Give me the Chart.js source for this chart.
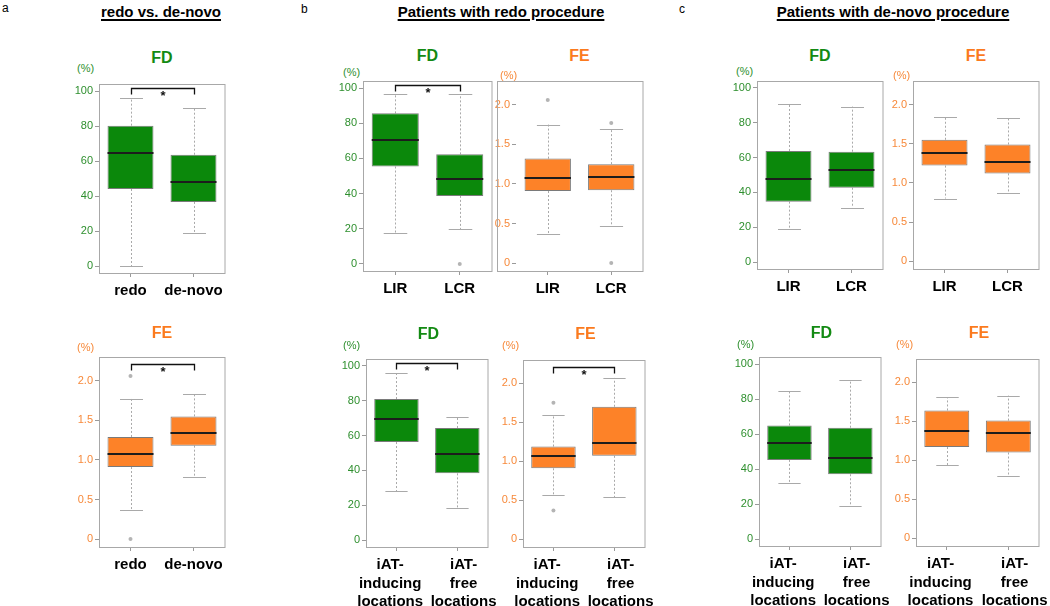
<!DOCTYPE html>
<html>
<head>
<meta charset="utf-8">
<script src="https://cdn.jsdelivr.net/npm/chart.js@4"></script>
<style>
body{margin:0;background:#fff;width:1050px;height:606px;position:relative;overflow:hidden;font-family:"Liberation Sans",Arial,sans-serif;}
.txt{position:absolute;white-space:nowrap;}
.sec{font-weight:bold;font-size:15px;text-decoration:underline;text-decoration-thickness:1.5px;text-underline-offset:2px;transform:translateX(-50%);}
.letter{font-size:12px;}
.ttl{font-weight:bold;font-size:16px;transform:translateX(-50%);}
.pct{font-size:11px;}
.holder{position:absolute;}
</style>
</head>
<body>
<div class="txt letter" style="left:2px;top:1px">a</div>
<div class="txt letter" style="left:301px;top:2px">b</div>
<div class="txt letter" style="left:679px;top:2px">c</div>
<div class="txt sec" style="left:161px;top:3px">redo vs. de-novo</div>
<div class="txt sec" style="left:501px;top:3px">Patients with redo procedure</div>
<div class="txt sec" style="left:893px;top:3px">Patients with de-novo procedure</div>

<script>
// categories
const catsRedo = ['redo', 'de-novo'];
const catsLoc = ['LIR', 'LCR'];
const catsIat = [['iAT-', 'inducing', 'locations'], ['iAT-', 'free', 'locations']];

// tick values
const fdTicks = [0, 20, 40, 60, 80, 100];
const feTicks = [0, 0.5, 1.0, 1.5, 2.0];

// box stats per category: [lower whisker, Q1, median, Q3, upper whisker]
const aFD = [[0, 44, 64.8, 80.2, 96.2], [18.7, 36.6, 48.2, 63.6, 90.5]];
const aFE = [[0.37, 0.91, 1.08, 1.29, 1.77], [0.79, 1.18, 1.34, 1.55, 1.83]];
const bFD1 = [[17.8, 55.4, 70.7, 85.6, 96.4], [19.9, 38.7, 48.1, 62.3, 96.4]];
const bFE1 = [[0.37, 0.91, 1.08, 1.32, 1.75], [0.47, 0.92, 1.09, 1.25, 1.70]];
const bFD2 = [[28, 56.3, 69.3, 81, 95.8], [18.4, 38.3, 49.4, 64.4, 70.7]];
const bFE2 = [[0.57, 0.91, 1.07, 1.19, 1.59], [0.54, 1.07, 1.24, 1.70, 2.07]];
const cFD1 = [[18.9, 34.7, 47.8, 63.8, 90.9], [31.2, 42.7, 53.1, 63.4, 89.3]];
const cFE1 = [[0.80, 1.22, 1.38, 1.55, 1.84], [0.87, 1.12, 1.26, 1.49, 1.83]];
const cFD2 = [[32.2, 45.2, 55, 64.9, 84.3], [19, 37, 46, 63.6, 91]];
const cFE2 = [[0.94, 1.17, 1.37, 1.64, 1.81], [0.80, 1.10, 1.35, 1.51, 1.83]];

// outliers: [category index, value]
const aFEout = [[0, 2.06], [0, 0]];
const bFD1out = [[1, 0]];
const bFE1out = [[0, 2.06], [1, 1.77], [1, 0]];
const bFE2out = [[0, 1.75], [0, 0.37]];

// level of the significance bracket (null = none)
const sigFD = 101.5;
const sigFE = 2.21;

const GREEN = '#0b880b', ORANGE = '#fd8228';
const FONT = '"Liberation Sans", Arial, sans-serif';

// frame x,y,w,h ; title y ; (%) x,y ; extra frame to the left ; spread of the labels
const panels = [
  {kind:'FD', cats:catsRedo, stats:aFD, out:[], sig:sigFD, box:[99,84,126,189], ty:49, px:77, py:62},
  {kind:'FE', cats:catsRedo, stats:aFE, out:aFEout, sig:sigFE, box:[99,357,126,190], ty:324, px:77, py:341},
  {kind:'FD', cats:catsLoc, stats:bFD1, out:bFD1out, sig:sigFD, box:[363,81,129,190], ty:47, px:343, py:66},
  {kind:'FE', cats:catsLoc, stats:bFE1, out:bFE1out, sig:null, box:[516,81,127,190], ty:47, px:500, py:69, extra:19},
  {kind:'FD', cats:catsIat, stats:bFD2, out:[], sig:sigFD, box:[366,359,125,188], ty:325, px:343, py:339, spread:3},
  {kind:'FE', cats:catsIat, stats:bFE2, out:bFE2out, sig:sigFE, box:[523,360,125,187], ty:325, px:502, py:339, spread:3},
  {kind:'FD', cats:catsLoc, stats:cFD1, out:[], sig:null, box:[757,81,126,188], ty:47, px:736, py:65},
  {kind:'FE', cats:catsLoc, stats:cFE1, out:[], sig:null, box:[913,81,126,188], ty:47, px:893, py:69},
  {kind:'FD', cats:catsIat, stats:cFD2, out:[], sig:null, box:[759,357,125,189], ty:324, px:737, py:338, spread:3},
  {kind:'FE', cats:catsIat, stats:cFE2, out:[], sig:null, box:[916,359,126,187], ty:324, px:896, py:338, spread:3}
];

const boxPlugin = {
  id: 'boxParts',
  beforeDatasetsDraw(chart, args, opts){
    const ctx = chart.ctx, xs = chart.scales.x, ys = chart.scales.y;
    const bars = chart.getDatasetMeta(0).data;
    ctx.save();
    opts.stats.forEach((s, i) => {
      const x = Math.round(xs.getPixelForValue(i)) + 0.5;
      const half = bars[i].width / 4;
      ctx.strokeStyle = '#a9a9a9';
      ctx.lineWidth = 1;
      ctx.setLineDash([2, 2]);
      ctx.beginPath();
      ctx.moveTo(x, ys.getPixelForValue(s[3]));
      ctx.lineTo(x, ys.getPixelForValue(s[4]));
      ctx.moveTo(x, ys.getPixelForValue(s[1]));
      ctx.lineTo(x, ys.getPixelForValue(s[0]));
      ctx.stroke();
      ctx.setLineDash([]);
      ctx.beginPath();
      [s[0], s[4]].forEach(v => {
        const y = Math.round(ys.getPixelForValue(v)) + 0.5;
        ctx.moveTo(x - half, y);
        ctx.lineTo(x + half, y);
      });
      ctx.stroke();
    });
    ctx.restore();
  },
  afterDatasetsDraw(chart, args, opts){
    const ctx = chart.ctx, xs = chart.scales.x, ys = chart.scales.y;
    const bars = chart.getDatasetMeta(0).data;
    ctx.save();
    ctx.strokeStyle = '#1c1c1c';
    ctx.lineWidth = 2;
    opts.stats.forEach((s, i) => {
      const x = xs.getPixelForValue(i), hw = bars[i].width / 2;
      const y = Math.round(ys.getPixelForValue(s[2]));
      ctx.beginPath();
      ctx.moveTo(x - hw, y);
      ctx.lineTo(x + hw, y);
      ctx.stroke();
    });
    if (opts.sig !== null){
      const x0 = Math.round(xs.getPixelForValue(0)) + 0.5;
      const x1 = Math.round(xs.getPixelForValue(1)) + 0.5;
      const y = Math.round(ys.getPixelForValue(opts.sig)) + 0.5;
      ctx.lineWidth = 1.3;
      ctx.strokeStyle = '#111';
      ctx.beginPath();
      ctx.moveTo(x0, y + 6);
      ctx.lineTo(x0, y);
      ctx.lineTo(x1, y);
      ctx.lineTo(x1, y + 6);
      ctx.stroke();
      ctx.fillStyle = '#111';
      ctx.font = 'bold 13px ' + FONT;
      ctx.textAlign = 'center';
      ctx.textBaseline = 'middle';
      ctx.fillText('*', (x0 + x1) / 2, y + 8);
    }
    ctx.restore();
  },
  afterDraw(chart, args, opts){
    const ctx = chart.ctx, a = chart.chartArea;
    ctx.save();
    ctx.strokeStyle = '#a8a8a8';
    ctx.lineWidth = 1;
    const left = Math.round(a.left - (opts.extra || 0)) + 0.5;
    ctx.strokeRect(left, Math.round(a.top) + 0.5, Math.round(a.right) - left, Math.round(a.bottom - a.top));
    ctx.restore();
  }
};

function addText(cls, text, x, y, color){
  const d = document.createElement('div');
  d.className = 'txt ' + cls;
  d.textContent = text;
  d.style.left = x + 'px';
  d.style.top = y + 'px';
  d.style.color = color;
  document.body.appendChild(d);
}

panels.forEach(p => {
  const [bx, by, bw, bh] = p.box;
  const isFD = p.kind === 'FD';
  const main = isFD ? GREEN : ORANGE;
  const tickCol = isFD ? '#2e8f2e' : '#f7893a';
  const titleCol = isFD ? '#138a13' : '#fb7a1e';

  addText('ttl', p.kind, bx + bw / 2, p.ty, titleCol);
  addText('pct', '(%)', p.px, p.py, tickCol);

  const holder = document.createElement('div');
  holder.className = 'holder';
  const padL = 45, padT = 10, padR = 14, padB = 72;
  holder.style.left = (bx - padL) + 'px';
  holder.style.top = (by - padT) + 'px';
  const canvas = document.createElement('canvas');
  canvas.width = bw + padL + padR;
  canvas.height = bh + padT + padB;
  holder.appendChild(canvas);
  document.body.appendChild(holder);

  const tickVals = isFD ? fdTicks : feTicks;
  const spread = ' '.repeat(p.spread || 0);

  // one point dataset per outlier, placed on its category
  const outSets = p.out.map(o => ({
    type: 'line',
    data: p.cats.map((c, i) => i === o[0] ? o[1] : null),
    showLine: false,
    pointRadius: 2,
    pointBackgroundColor: '#b4b4b4',
    pointBorderWidth: 0
  }));

  const chart = new Chart(canvas, {
    type: 'bar',
    data: {
      labels: p.cats,
      datasets: [
        {
          data: p.stats.map(s => [s[1], s[3]]),
          backgroundColor: main,
          borderColor: '#7a7a7a',
          borderWidth: 1,
          borderSkipped: false,
          barPercentage: 0.73,
          categoryPercentage: 1
        }
      ].concat(outSets)
    },
    options: {
      responsive: false,
      animation: false,
      layout: {padding: {top: padT, right: padR, left: 0, bottom: 0}},
      plugins: {
        legend: {display: false},
        tooltip: {enabled: false},
        boxParts: {stats: p.stats, sig: p.sig, extra: p.extra || 0}
      },
      scales: {
        x: {
          offset: true,
          grid: {drawOnChartArea: false, offset: false, tickLength: 4, color: '#9a9a9a'},
          border: {display: false},
          ticks: {
            color: '#000',
            font: {family: FONT, size: 15, weight: 'bold', lineHeight: 1.22},
            padding: 5,
            maxRotation: 0,
            autoSkip: false,
            // push the two labels a little apart, as in the source figure
            callback: function(v, i){
              const lab = p.cats[i];
              if (!Array.isArray(lab)) return lab;
              return lab.map(t => i === 0 ? t + spread : spread + t);
            }
          },
          afterFit: s => { s.height = padB; }
        },
        y: {
          min: isFD ? -4 : -0.1,
          max: isFD ? 104 : 2.3,
          afterBuildTicks: s => { s.ticks = tickVals.map(v => ({value: v})); },
          grid: {drawOnChartArea: false, tickLength: 4, color: '#9a9a9a'},
          border: {display: false},
          ticks: {
            color: tickCol,
            font: {family: FONT, size: 11},
            padding: 2,
            callback: v => (isFD || v === 0) ? String(v) : v.toFixed(1)
          },
          afterFit: s => { s.width = padL; }
        }
      }
    },
    plugins: [boxPlugin]
  });

  // keep the plot frame on the reference position
  const a = chart.chartArea;
  holder.style.left = (bx - a.left) + 'px';
  holder.style.top = (by - a.top) + 'px';
});
</script>
</body>
</html>
